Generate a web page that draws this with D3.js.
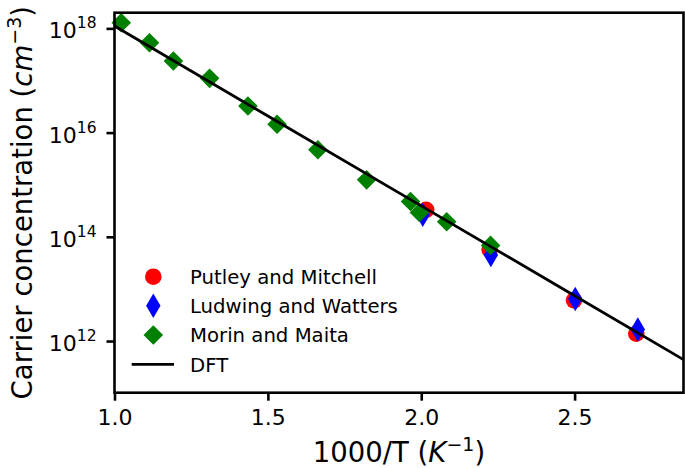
<!DOCTYPE html>
<html>
<head>
<meta charset="utf-8">
<script src="https://cdn.jsdelivr.net/npm/d3@7"></script>
<style>
  body { margin: 0; background: #fff; }
  svg { display: block; font-family: "DejaVu Sans", sans-serif; }
</style>
</head>
<body>
<div id="chart"></div>
<script>
// Series (x = 1000/T in K^-1, y = carrier concentration in cm^-3)
const putleyX = [2.016, 2.223, 2.498, 2.701];
const putleyY = [3.3e14, 5.7e13, 6.05e12, 1.39e12];

const ludwigX = [2.005, 2.227, 2.502, 2.706];
const ludwigY = [2.65e14, 4.5e13, 6.4e12, 1.66e12];

const morinX = [1.022, 1.114, 1.192, 1.310, 1.435, 1.530, 1.663, 1.822, 1.965, 1.994, 2.083, 2.226];
const morinY = [1.28e18, 5.3e17, 2.37e17, 1.10e17, 3.24e16, 1.45e16, 4.7e15, 1.24e15, 4.77e14, 2.93e14, 1.95e14, 6.84e13];

const dftX = [1.0, 1.5, 2.0, 2.5, 2.855];
const dftY = [1.11e18, 2.08e16, 3.93e14, 7.4e12, 4.4e11];

const xTicks = [1.0, 1.5, 2.0, 2.5];
const yTickExps = [12, 14, 16, 18];

const legendNames = ["Putley and Mitchell", "Ludwing and Watters", "Morin and Maita", "DFT"];

// Chart dimensions
const W = 685, H = 468;
const margin = { top: 12.7, right: 1.5, bottom: 75.3, left: 114.5 };
const width = W - margin.left - margin.right;
const height = H - margin.top - margin.bottom;

const svg = d3.select("#chart").append("svg")
  .attr("width", W)
  .attr("height", H);

const g = svg.append("g")
  .attr("transform", `translate(${margin.left},${margin.top})`);

const x = d3.scaleLinear().domain([1.0, 2.855]).range([0, width]);
const y = d3.scaleLog().domain([1.02e11, 2e18]).range([height, 0]);

// markers
const circleR = 8.3;
const diamond = (cx, cy, hw, hh) =>
  `M${cx},${cy - hh}L${cx + hw},${cy}L${cx},${cy + hh}L${cx - hw},${cy}Z`;

const putley = d3.zip(putleyX, putleyY);
const ludwig = d3.zip(ludwigX, ludwigY);
const morin = d3.zip(morinX, morinY);

g.selectAll(".putley")
  .data(putley)
  .enter().append("circle")
  .attr("class", "putley")
  .attr("cx", d => x(d[0]))
  .attr("cy", d => y(d[1]))
  .attr("r", circleR)
  .attr("fill", "red");

g.selectAll(".ludwig")
  .data(ludwig)
  .enter().append("path")
  .attr("class", "ludwig")
  .attr("d", d => diamond(x(d[0]), y(d[1]), 7.2, 12.3))
  .attr("fill", "blue");

g.selectAll(".morin")
  .data(morin)
  .enter().append("path")
  .attr("class", "morin")
  .attr("d", d => diamond(x(d[0]), y(d[1]), 9.8, 9.8))
  .attr("fill", "green");

// DFT line on top
const line = d3.line()
  .x(d => x(d[0]))
  .y(d => y(d[1]));

g.append("path")
  .datum(d3.zip(dftX, dftY))
  .attr("d", line)
  .attr("fill", "none")
  .attr("stroke", "black")
  .attr("stroke-width", 2.8);

// Frame
g.append("rect")
  .attr("x", 0)
  .attr("y", 0)
  .attr("width", width)
  .attr("height", height)
  .attr("fill", "none")
  .attr("stroke", "black")
  .attr("stroke-width", 2.6);

// x axis
const xAxis = g.append("g")
  .attr("transform", `translate(0,${height})`)
  .call(d3.axisBottom(x).tickValues(xTicks).tickFormat(d3.format(".1f")).tickSize(8).tickPadding(9));
xAxis.select(".domain").remove();
xAxis.selectAll(".tick line").attr("stroke-width", 2.6);
xAxis.selectAll(".tick text")
  .attr("font-size", 22)
  .attr("font-family", "DejaVu Sans")
  .attr("fill", "#000");

// y axis with power-of-ten labels
const yAxis = g.append("g")
  .call(d3.axisLeft(y).tickValues(yTickExps.map(e => Math.pow(10, e))).tickFormat("").tickSize(8));
yAxis.select(".domain").remove();
yAxis.selectAll(".tick line").attr("stroke-width", 2.6);

yTickExps.forEach(e => {
  const t = g.append("text")
    .attr("x", -18)
    .attr("y", y(Math.pow(10, e)) + 10)
    .attr("text-anchor", "end")
    .attr("font-size", 22)
    .attr("fill", "#000");
  t.append("tspan").text("10");
  t.append("tspan").attr("dy", -10).attr("font-size", 15.5).text(e);
});

// axis labels
const xl = svg.append("text")
  .attr("x", margin.left + width / 2)
  .attr("y", 462)
  .attr("text-anchor", "middle")
  .attr("font-size", 27.5)
  .attr("fill", "#000");
xl.append("tspan").text("1000/T (");
xl.append("tspan").attr("font-style", "italic").text("K");
xl.append("tspan").attr("dy", -11).attr("font-size", 19).text("\u22121");
xl.append("tspan").attr("dy", 11).text(")");

const yl = svg.append("text")
  .attr("transform", `translate(32,${margin.top + height / 2}) rotate(-90)`)
  .attr("text-anchor", "middle")
  .attr("font-size", 27.5)
  .attr("fill", "#000");
yl.append("tspan").text("Carrier concentration (");
yl.append("tspan").attr("font-style", "italic").text("cm");
yl.append("tspan").attr("dy", -11).attr("font-size", 19).text("\u22123");
yl.append("tspan").attr("dy", 11).text(")");

// legend
const legRows = [276.7, 305.7, 335, 364.3];
const legX = 153.3;
const leg = svg.append("g");

leg.append("circle").attr("cx", legX).attr("cy", legRows[0]).attr("r", circleR).attr("fill", "red");
leg.append("path").attr("d", diamond(legX, legRows[1], 7.2, 12.3)).attr("fill", "blue");
leg.append("path").attr("d", diamond(legX, legRows[2], 9.8, 9.8)).attr("fill", "green");
leg.append("line")
  .attr("x1", 131.7).attr("x2", 174)
  .attr("y1", legRows[3]).attr("y2", legRows[3])
  .attr("stroke", "black").attr("stroke-width", 2.8);

legendNames.forEach((name, i) => {
  leg.append("text")
    .attr("x", 190)
    .attr("y", legRows[i] + 7.2)
    .attr("font-size", 19.7)
    .attr("fill", "#000")
    .text(name);
});
</script>
</body>
</html>
